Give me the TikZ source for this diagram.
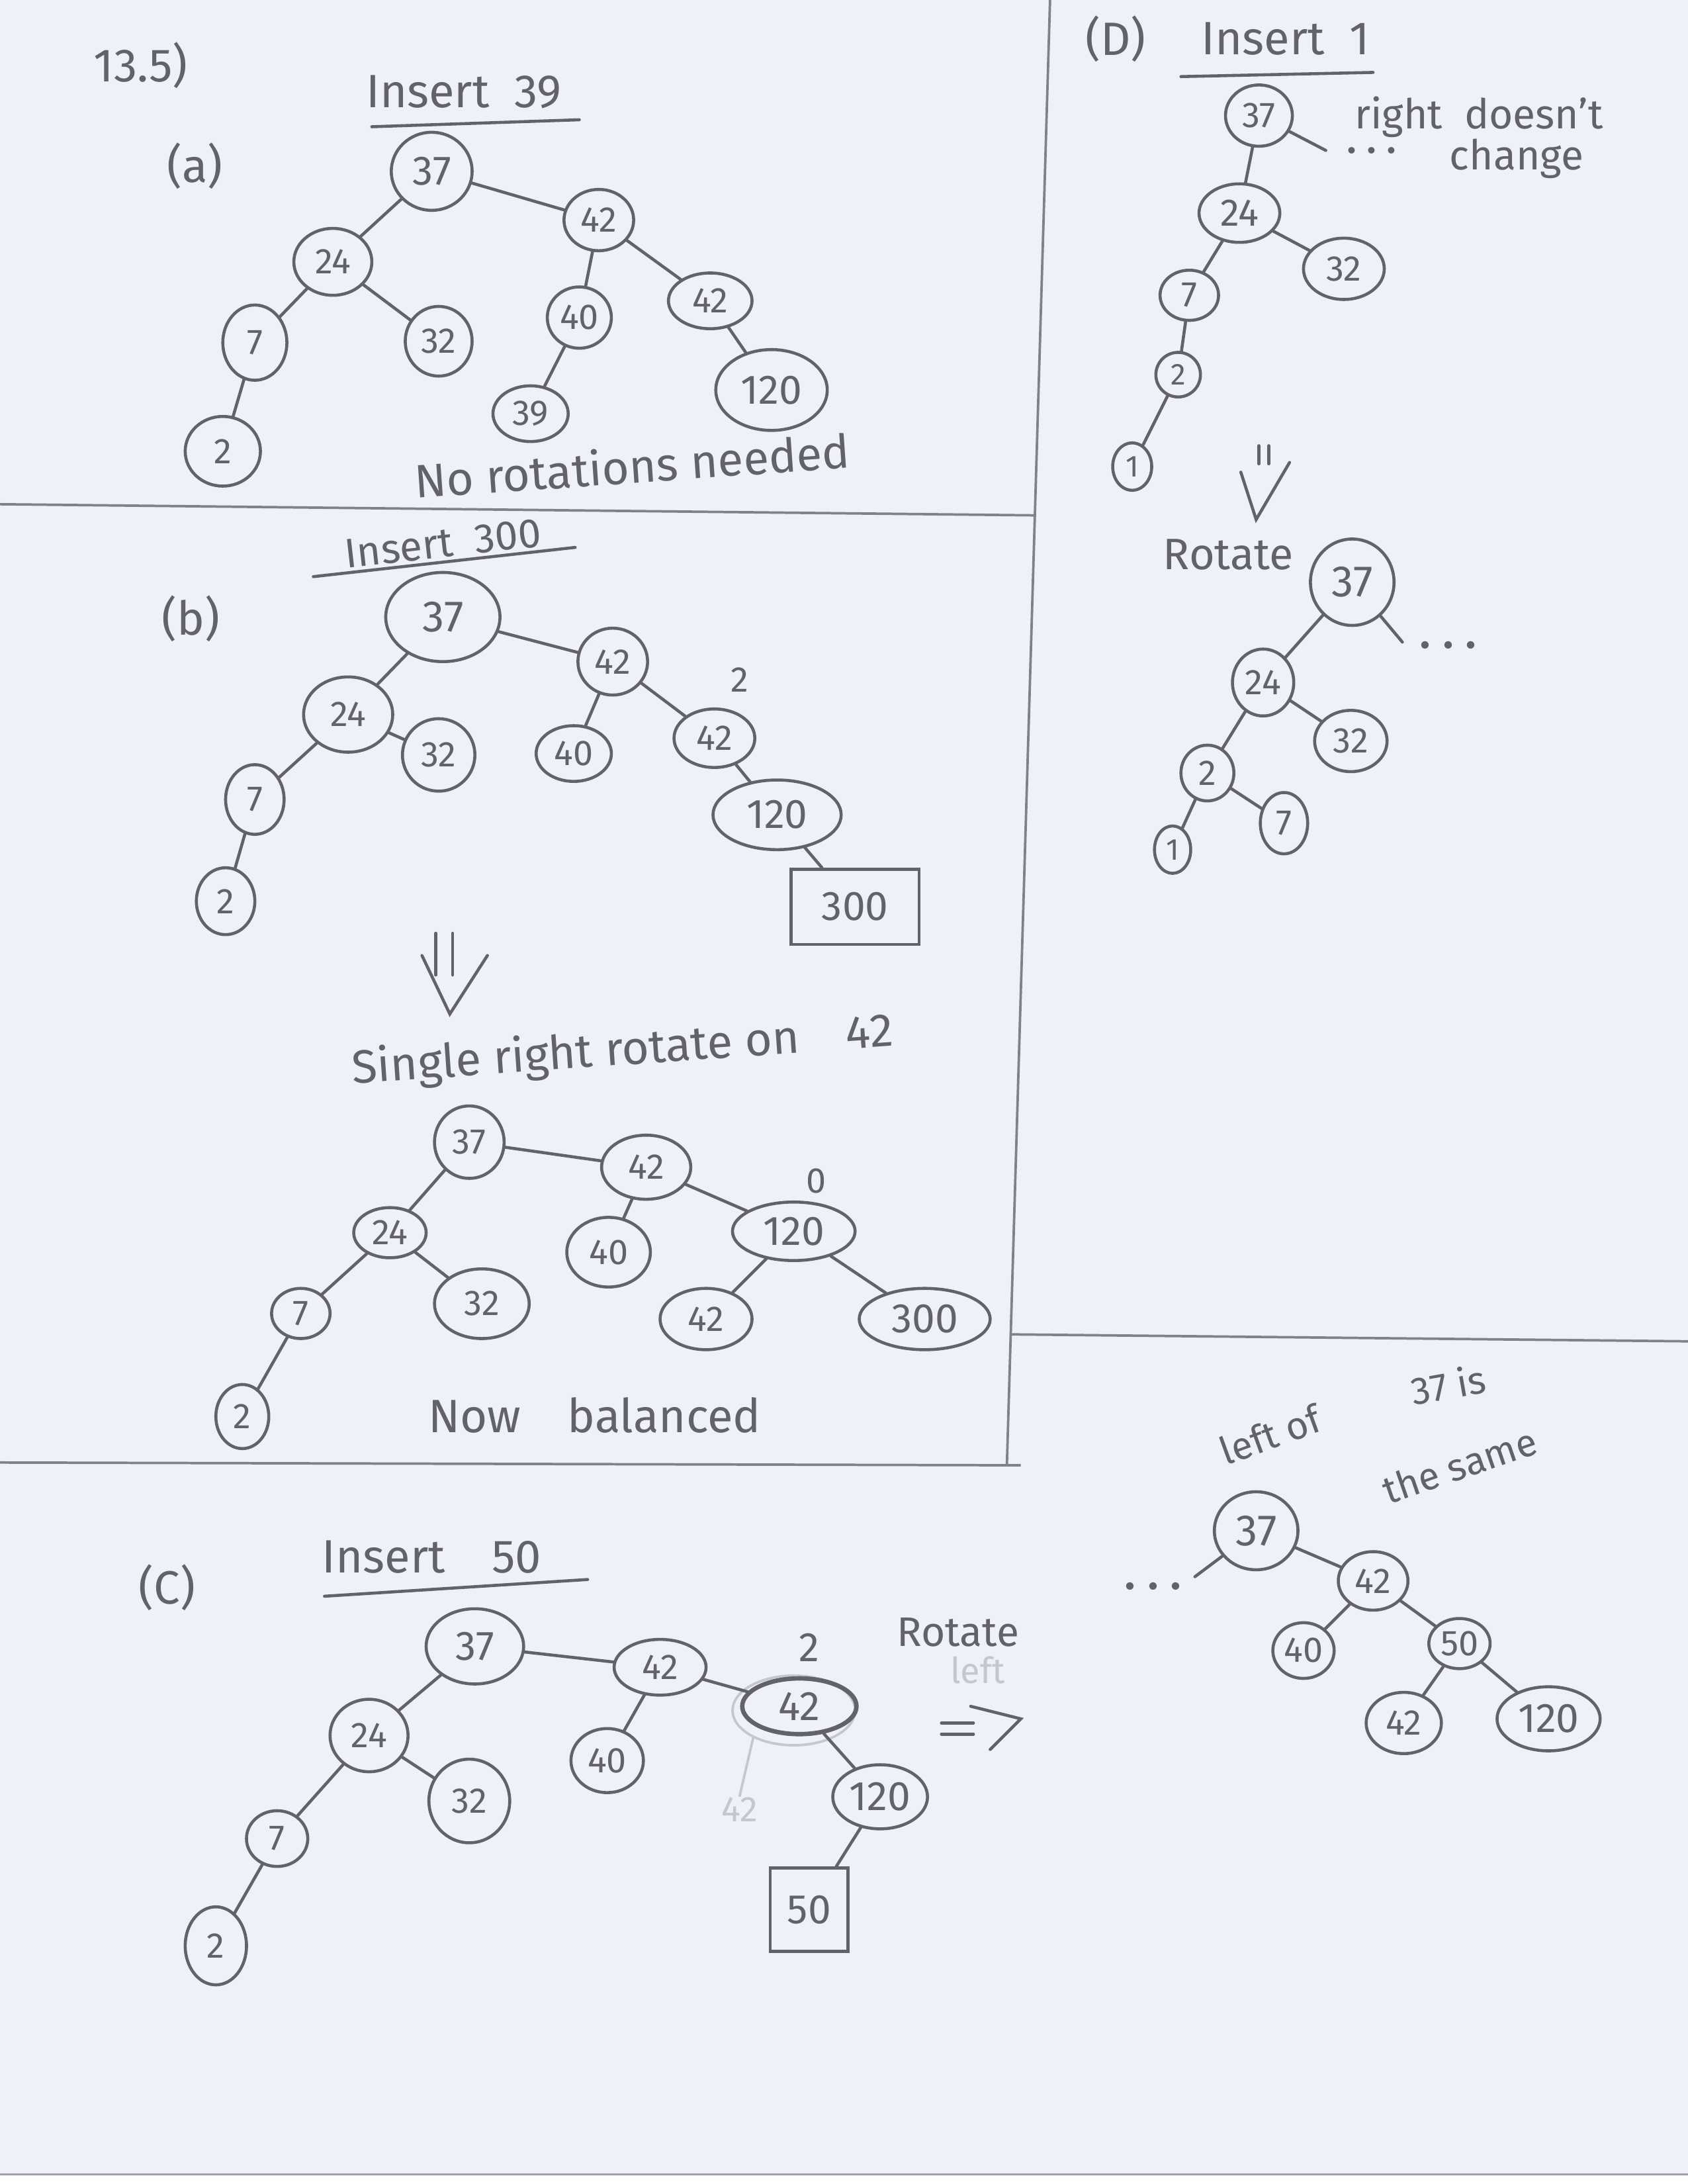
\documentclass[tikz,border=0pt]{standalone}
\usepackage{fontspec}
\setmainfont{Fira Sans}
\usetikzlibrary{shapes.geometric}
\definecolor{pencil}{RGB}{98,98,104}
\definecolor{paper}{RGB}{239,241,250}
\definecolor{faintc}{RGB}{196,198,208}
\newcommand\fsz[1]{\fontsize{#1}{#1}\selectfont}
\begin{document}
\begin{tikzpicture}[x=0.017814cm,y=-0.017814cm,
  nd/.style 2 args={ellipse,draw=pencil,line width=1.1pt,text=pencil,
    minimum width=#1*0.035628cm,minimum height=#2*0.035628cm,inner sep=0pt,font=\fsz{13}},
  bx/.style 2 args={rectangle,draw=pencil,line width=1.1pt,text=pencil,
    minimum width=#1*0.017814cm,minimum height=#2*0.017814cm,inner sep=0pt,font=\fsz{15}},
  lab/.style={text=pencil,inner sep=0pt,font=\fsz{17}},
  ed/.style={draw=pencil,line width=1.1pt,line cap=round},
  divider/.style={draw=pencil!80,line width=0.9pt},
  ghost/.style={draw=faintc,line width=0.9pt}]
\useasboundingbox (0,0) rectangle (1212,1568);
\fill[paper] (0,0) rectangle (1212,1561);
\fill[white] (0,1561) rectangle (1212,1568);
\draw[pencil!60,line width=0.8pt] (0,1561) -- (1212,1561);
% dividers
\draw[divider] (754,0) -- (723,1052);
\draw[divider] (0,362) -- (743,370);
\draw[divider] (725,958) -- (1212,963);
\draw[divider] (0,1050) -- (733,1052);

% ---------------- (a)
\node[lab] (t135) at (101,47) {13.5)};
\node[lab] (ains) at (333,66) {Insert\ \ 39};
\draw[ed] (267,91) -- (416,86);
\node[lab] (alab) at (140,119) {(a)};
\node[nd={29}{28},font=\fsz{15}] (a37) at (310,123) {37};
\node[nd={25}{22}] (a42) at (430,158) {42};
\node[nd={28}{24}] (a24) at (239,188) {24};
\node[nd={23}{22}] (a40) at (416,228) {40};
\node[nd={30}{20}] (a42b) at (510,216) {42};
\node[nd={23}{27}] (a7) at (183,246) {7};
\node[nd={24}{25}] (a32) at (315,245) {32};
\node[nd={40}{29},font=\fsz{15}] (a120) at (554,280) {120};
\node[nd={27}{20}] (a39) at (381,297) {39};
\node[nd={27}{25}] (a2) at (160,324) {2};
\draw[ed] (a37)--(a42) (a37)--(a24) (a24)--(a7) (a24)--(a32) (a7)--(a2)
  (a42)--(a40) (a42)--(a42b) (a40)--(a39) (a42b)--(a120);
\node[lab,rotate=4] (anote) at (454,334) {No rotations needed};

% ---------------- (b)
\node[lab,rotate=6.4,font=\fsz{15}] (bins) at (318,390) {Insert\ \ 300};
\draw[ed] (225,414) -- (413,393);
\node[lab] (blab) at (137,444) {(b)};
\node[nd={41}{32},font=\fsz{16}] (b37) at (318,443) {37};
\node[nd={25}{24}] (b42) at (440,475) {42};
\node[lab,font=\fsz{13}] (bbal) at (531,488) {2};
\node[nd={32}{27}] (b24) at (250,513) {24};
\node[nd={26}{26}] (b32) at (315,542) {32};
\node[nd={27}{20}] (b40) at (412,541) {40};
\node[nd={29}{21}] (b42b) at (513,530) {42};
\node[nd={21}{25}] (b7) at (183,574) {7};
\node[nd={46}{25},font=\fsz{15}] (b120) at (558,585) {120};
\node[nd={21}{24}] (b2) at (162,647) {2};
\node[bx={92}{54}] (b300) at (614,651) {300};
\draw[ed] (b37)--(b42) (b37)--(b24) (b24)--(b7) (b24)--(b32) (b7)--(b2)
  (b42)--(b40) (b42)--(b42b) (b42b)--(b120) (b120)--(b300);
% down arrow
\draw[ed] (313,670)--(313,700) (325,670)--(325,700);
\draw[ed] (303,686)--(323,728)--(350,686);
\node[lab,rotate=4] (bsingle) at (447,755) {Single right rotate on\quad 42};
\node[nd={25}{26}] (r37) at (337,820) {37};
\node[nd={32}{23}] (r42) at (464,838) {42};
\node[lab,font=\fsz{13}] (rbal) at (586,848) {0};
\node[nd={26}{18}] (r24) at (280,885) {24};
\node[nd={30}{25}] (r40) at (437,899) {40};
\node[nd={44}{21},font=\fsz{15}] (r120) at (570,884) {120};
\node[nd={21}{18}] (r7) at (216,943) {7};
\node[nd={34}{25}] (r32) at (346,936) {32};
\node[nd={33}{22}] (r42b) at (507,947) {42};
\node[nd={47}{22},font=\fsz{15}] (r300) at (664,947) {300};
\node[nd={19}{23}] (r2) at (174,1017) {2};
\draw[ed] (r37)--(r42) (r37)--(r24) (r24)--(r7) (r24)--(r32) (r7)--(r2)
  (r42)--(r40) (r42)--(r120) (r120)--(r42b) (r120)--(r300);
\node[lab] (bnow) at (427,1016) {Now\quad balanced};

% ---------------- (c)
\node[lab] (clab) at (120,1140) {(C)};
\node[lab] (cins) at (310,1118) {Insert\quad 50};
\draw[ed] (233,1146) -- (422,1134);
\node[nd={35}{27},font=\fsz{15}] (c37) at (341,1182) {37};
\node[nd={33}{20}] (c42) at (474,1197) {42};
\node[lab,font=\fsz{15}] (cbal) at (581,1183) {2};
\draw[ghost] (570,1228) ellipse [x radius=44, y radius=25];
\node[nd={41}{20},line width=1.6pt,font=\fsz{15}] (c42b) at (574,1225) {42};
\node[nd={28}{26}] (c24) at (265,1246) {24};
\node[nd={26}{23}] (c40) at (436,1264) {40};
\node[nd={29}{30}] (c32) at (337,1293) {32};
\node[nd={34}{23},font=\fsz{15}] (c120) at (632,1290) {120};
\node[nd={22}{20}] (c7) at (199,1320) {7};
\node[bx={56}{60}] (c50) at (581,1371) {50};
\node[nd={22}{28}] (c2) at (155,1397) {2};
\draw[ed] (c37)--(c42) (c37)--(c24) (c24)--(c7) (c24)--(c32) (c7)--(c2)
  (c42)--(c40) (c42)--(c42b) (c42b)--(c120) (c120)--(c50);
\node[text=faintc,inner sep=0pt,font=\fsz{13}] (cghost) at (531,1299) {42};
\coordinate (cg1) at (541,1247);
\draw[ghost] (cg1) -- (cghost.north);
\node[lab,font=\fsz{15}] (crot) at (688,1172) {Rotate};
\node[text=faintc,inner sep=0pt,font=\fsz{13}] (cleft) at (702,1199) {left};
\draw[ed] (676,1237)--(699,1237) (676,1245)--(699,1245);
\draw[ed] (697,1225)--(733,1234)--(711,1256);

% ---------------- (D)
\node[lab] (dlab) at (801,28) {(D)};
\node[lab] (dins) at (923,28) {Insert\ \ 1};
\draw[ed] (848,55) -- (986,52);
\node[nd={24}{22}] (d37) at (904,83) {37};
\node[lab,font=\fsz{15}] (dright) at (1062,84) {right\ \ doesn't};
\node[lab,font=\fsz{15}] (dchange) at (1089,114) {change};
\node[lab,font=\fsz{13}\bfseries] (ddots) at (985,108) {. . .};
\coordinate (d37e) at (952,108);
\node[nd={29}{21},font=\fsz{14}] (d24) at (890,153) {24};
\node[nd={29}{22}] (d32) at (965,193) {32};
\node[nd={21}{18}] (d7) at (854,212) {7};
\node[nd={16}{16},font=\fsz{11}] (d2) at (846,269) {2};
\node[nd={14}{17},font=\fsz{11}] (d1) at (813,335) {1};
\draw[ed] (d37)--(d37e) (d37)--(d24) (d24)--(d7) (d24)--(d32) (d7)--(d2) (d2)--(d1);
\draw[ed] (904,320)--(904,333) (911,320)--(911,333);
\draw[ed] (891,339)--(902,373)--(926,332);
\node[lab,font=\fsz{16}] (drot) at (882,398) {Rotate};
\node[nd={30}{31},font=\fsz{16}] (e37) at (971,418) {37};
\node[lab,font=\fsz{15}\bfseries] (edots) at (1040,463) {. . .};
\coordinate (e37e) at (1007,461);
\node[nd={22}{24}] (e24) at (907,490) {24};
\node[nd={26}{22}] (e32) at (970,532) {32};
\node[nd={19}{20}] (e2) at (867,555) {2};
\node[nd={17}{22}] (e7) at (922,591) {7};
\node[nd={13}{17},font=\fsz{11}] (e1) at (842,610) {1};
\draw[ed] (e37)--(e37e) (e37)--(e24) (e24)--(e2) (e24)--(e32) (e2)--(e1) (e2)--(e7);

% ---------------- bottom right
\node[lab,rotate=20,font=\fsz{14}] (fnote1) at (912,1030) {left of};
\node[lab,rotate=10,font=\fsz{14}] (fnote2) at (1040,994) {37 is};
\node[lab,rotate=19,font=\fsz{14}] (fnote3) at (1048,1052) {the same};
\node[nd={30}{28},font=\fsz{16}] (f37) at (902,1099) {37};
\node[lab,font=\fsz{15}\bfseries] (fdots) at (828,1139) {. . .};
\coordinate (f37e) at (858,1132);
\node[nd={25}{21}] (f42) at (986,1135) {42};
\node[nd={22}{20}] (f40) at (936,1185) {40};
\node[nd={22}{18}] (f50) at (1048,1180) {50};
\node[nd={27}{22}] (f42c) at (1008,1237) {42};
\node[nd={37}{23},font=\fsz{15}] (f120) at (1112,1234) {120};
\draw[ed] (f37)--(f37e) (f37)--(f42) (f42)--(f40) (f42)--(f50) (f50)--(f42c) (f50)--(f120);
\end{tikzpicture}
\end{document}
